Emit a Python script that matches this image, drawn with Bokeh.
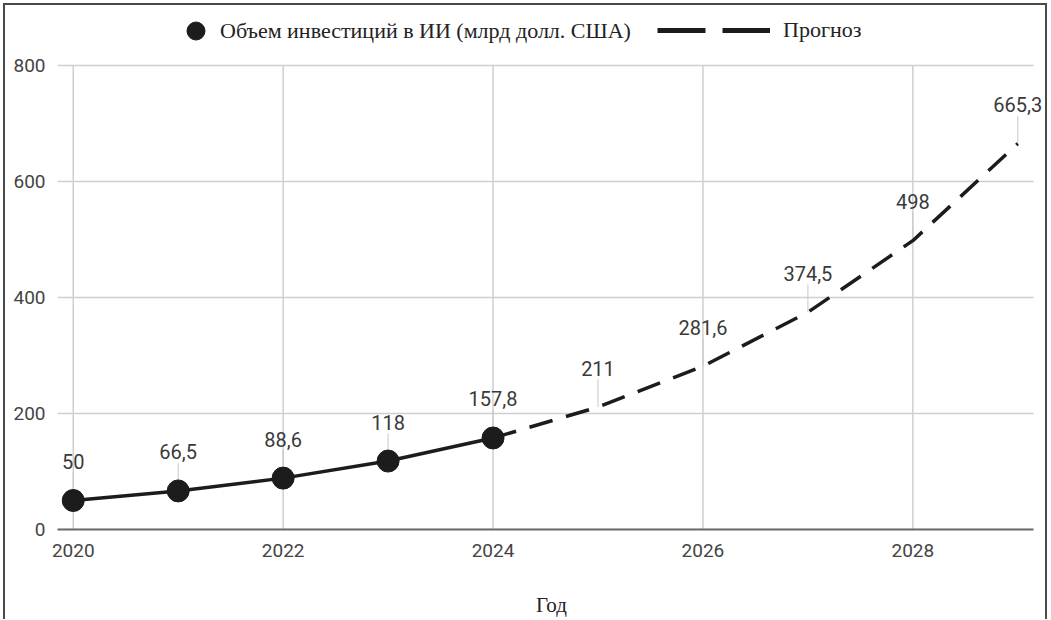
from bokeh.plotting import figure
from bokeh.models import ColumnDataSource, Legend, LegendItem, FixedTicker, Range1d
from bokeh.core.properties import value
from bokeh.embed import file_html
from bokeh.resources import INLINE

# ---- data ----
years_actual = [2020, 2021, 2022, 2023, 2024]
invest_actual = [50, 66.5, 88.6, 118, 157.8]
years_forecast = [2024, 2025, 2026, 2027, 2028, 2029]
invest_forecast = [157.8, 211, 281.6, 374.5, 498, 665.3]
label_years = [2020, 2021, 2022, 2023, 2024, 2025, 2026, 2027, 2028, 2029]
label_values = [50, 66.5, 88.6, 118, 157.8, 211, 281.6, 374.5, 498, 665.3]
label_texts = ["50", "66,5", "88,6", "118", "157,8", "211", "281,6", "374,5", "498", "665,3"]
x_ticks = [2020, 2022, 2024, 2026, 2028]
y_ticks = [0, 200, 400, 600, 800]
series_names = ["Объем инвестиций в ИИ (млрд долл. США)", "Прогноз"]
x_title = "Год"

DARK = "#1c1c1c"
GRID = "#cfcfcf"
LEADER_UNITS = 48          # leader length in data units above each point
X_LO, X_HI = 2019.85, 2029.15   # visible extent of the plotting area
X_END = 2029.264           # frame extends right so that the last label is not clipped
Y_TOP = 903.45             # frame extends above 800 to host the legend
NAN = float("nan")

p = figure(width=1040, height=614, frame_width=988, frame_height=524,
           output_backend="svg", toolbar_location=None, tools="",
           x_range=Range1d(X_LO, X_END), y_range=Range1d(0, Y_TOP),
           min_border_left=52, min_border_right=0, min_border_top=0, min_border_bottom=90,
           background_fill_color="white", border_fill_color="white")
p.outline_line_color = None
p.styles = {"box-sizing": "content-box",
            "border-top": "2px solid #4a4a4a", "border-left": "2px solid #4a4a4a",
            "border-right": "2px solid #4a4a4a", "margin-left": "3px", "margin-top": "3px"}

# grids (drawn only over the visible plotting area)
p.xgrid.visible = False
p.ygrid.visible = False
p.segment(x0=x_ticks, y0=[y_ticks[0]] * len(x_ticks), x1=x_ticks, y1=[y_ticks[-1]] * len(x_ticks),
          line_color=GRID, line_width=1.5)
p.segment(x0=[X_LO] * len(y_ticks), y0=y_ticks, x1=[X_HI] * len(y_ticks), y1=y_ticks,
          line_color=GRID, line_width=1.5)

# axes
p.xaxis.ticker = FixedTicker(ticks=x_ticks)
p.yaxis.ticker = FixedTicker(ticks=y_ticks)
p.xaxis.bounds = (X_LO, X_HI)
p.xaxis.axis_line_color = "#6a6a6a"
p.xaxis.axis_line_width = 2
p.yaxis.axis_line_color = None
for ax in (p.xaxis, p.yaxis):
    ax.major_tick_line_color = None
    ax.minor_tick_line_color = None
    ax.major_tick_out = 0
    ax.major_tick_in = 0
    ax.major_label_text_font = "Roboto"
    ax.major_label_text_font_size = "19px"
    ax.major_label_text_color = "#444444"
p.xaxis.major_label_standoff = 14
p.yaxis.major_label_standoff = 12
p.xaxis.axis_label = x_title
p.xaxis.axis_label_text_font = "Liberation Serif"
p.xaxis.axis_label_text_font_size = "21px"
p.xaxis.axis_label_text_font_style = "normal"
p.xaxis.axis_label_text_color = "#222222"
p.xaxis.axis_label_standoff = 33

# leader lines
lead_src = ColumnDataSource(dict(x=label_years, y0=label_values,
                                 y1=[v + LEADER_UNITS for v in label_values]))
p.segment(x0="x", y0="y0", x1="x", y1="y1", source=lead_src, line_color="#c8c8c8", line_width=1)

# lines
p.line(years_actual, invest_actual, line_color=DARK, line_width=3.5)
p.line(years_forecast, invest_forecast, line_color=DARK, line_width=3.5, line_dash="24 14")
pts = p.scatter(years_actual, invest_actual, size=22, fill_color=DARK, line_color=DARK)

# legend-only sample for forecast (draws nothing in the plot)
leg_line = p.line(x=[NAN, NAN], y=[NAN, NAN], line_color=DARK, line_width=5, line_dash="48 17")

# data labels
lab_src = ColumnDataSource(dict(x=label_years, y=label_values, t=label_texts))
p.text(x="x", y="y", text="t", source=lab_src, y_offset=-39, text_align="center",
       text_baseline="middle", text_font=value("Roboto"), text_font_size="20px",
       text_color="#3a3a3a")

leg1 = Legend(items=[LegendItem(label=series_names[0], renderers=[pts])],
              location=(116, 476), orientation="horizontal", glyph_width=45, glyph_height=45,
              label_standoff=2, padding=0, margin=0, spacing=0, border_line_color=None,
              background_fill_alpha=0, label_text_font="Liberation Serif",
              label_text_font_size="22px", label_text_color="#222222")
leg2 = Legend(items=[LegendItem(label=series_names[1], renderers=[leg_line])],
              location=(600, 486), orientation="horizontal", glyph_width=113, glyph_height=20,
              label_standoff=13, padding=0, margin=0, spacing=0, border_line_color=None,
              background_fill_alpha=0, label_text_font="Liberation Serif",
              label_text_font_size="22px", label_text_color="#222222")
p.add_layout(leg1)
p.add_layout(leg2)

open("out.html", "w").write(file_html(p, INLINE))
